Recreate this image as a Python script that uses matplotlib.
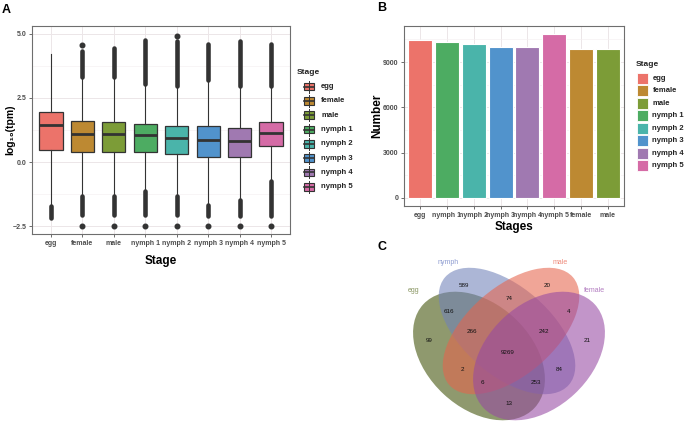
import numpy as np
import matplotlib
matplotlib.use("Agg")
import matplotlib.pyplot as plt
from matplotlib.patches import Rectangle, Ellipse
from matplotlib.lines import Line2D

plt.rcParams["font.family"] = ["Liberation Sans", "DejaVu Sans"]

# ---- data -------------------------------------------------------------
stages = ["egg", "female", "male", "nymph 1", "nymph 2", "nymph 3", "nymph 4", "nymph 5"]
stage_colors = ["#EC736A", "#BD8932", "#7C9C37", "#4DAC62", "#4AB4AA", "#5193CC", "#A079B1", "#D56BA6"]

q1 = [0.48, 0.41, 0.40, 0.41, 0.30, 0.19, 0.21, 0.63]
med = [1.44, 1.09, 1.09, 1.04, 0.92, 0.87, 0.83, 1.15]
q3 = [1.97, 1.61, 1.57, 1.50, 1.39, 1.40, 1.33, 1.58]
whis_hi = [4.20, 3.30, 3.30, 3.05, 2.95, 3.20, 2.97, 2.97]
whis_lo = [-1.65, -1.30, -1.30, -1.10, -1.30, -1.60, -1.45, -0.70]
# dense runs of outliers (from, to)
out_hi_from = [np.nan, 3.30, 3.30, 3.05, 2.95, 3.20, 2.97, 2.97]
out_hi_to = [np.nan, 4.35, 4.45, 4.75, 4.72, 4.62, 4.72, 4.62]
out_lo_from = [-1.73, -1.34, -1.34, -1.14, -1.34, -1.66, -1.47, -0.75]
out_lo_to = [-2.18, -2.05, -2.05, -2.05, -2.05, -2.09, -2.09, -2.09]
# isolated outliers
out_single = [[], [4.58, -2.5], [-2.5], [-2.5], [4.92, -2.5], [-2.5], [-2.5], [-2.5]]

bar_stages = ["egg", "nymph 1", "nymph 2", "nymph 3", "nymph 4", "nymph 5", "female", "male"]
gene_counts = [10480, 10320, 10210, 9990, 9990, 10850, 9860, 9860]

venn_sets = ["egg", "nymph", "male", "female"]
venn_counts = [99, 589, 20, 21, 616, 74, 4, 266, 242, 9269, 2, 84, 6, 253, 13]

# ---- helpers ----------------------------------------------------------
W, H = 685, 423
fig = plt.figure(figsize=(W / 100, H / 100), dpi=100)


def fx(x):
    return x / W


def fy(y):
    return 1 - y / H


def ggstyle(ax):
    ax.set_facecolor("white")
    for s in ax.spines.values():
        s.set_color("#6E6E6E")
        s.set_linewidth(0.8)
    ax.grid(True, which="major", color="#ECE6E8", lw=0.7)
    ax.grid(True, which="minor", axis="y", color="#F4F0F1", lw=0.45)
    ax.set_axisbelow(True)
    ax.tick_params(axis="both", which="major", length=2.5, width=0.6, color="#555555",
                   labelsize=5, labelcolor="#4D4D4D", pad=1.5)
    ax.tick_params(which="minor", length=0)
    for lab in ax.get_xticklabels() + ax.get_yticklabels():
        lab.set_fontweight("bold")


dark = "#333333"
col_by_stage = dict(zip(stages, stage_colors))

# ---- panel A: boxplot -------------------------------------------------
axA = fig.add_axes([fx(32), fy(234), (290 - 32) / W, (234 - 26) / H])
pos = np.arange(1, len(stages) + 1)
stats = []
for i in range(len(stages)):
    stats.append(dict(med=med[i], q1=q1[i], q3=q3[i], whislo=whis_lo[i], whishi=whis_hi[i],
                      fliers=out_single[i]))
bp = axA.bxp(stats, positions=pos, widths=0.74, patch_artist=True, showcaps=False,
             boxprops=dict(edgecolor=dark, lw=0.9),
             medianprops=dict(color=dark, lw=2.0),
             whiskerprops=dict(color=dark, lw=0.8),
             flierprops=dict(marker="o", markersize=3.3, markerfacecolor=dark,
                             markeredgecolor=dark))
for patch, c in zip(bp["boxes"], stage_colors):
    patch.set_facecolor(c)
axA.vlines(pos, out_hi_from, out_hi_to, color=dark, lw=3.3, capstyle="round", zorder=3)
axA.vlines(pos, out_lo_from, out_lo_to, color=dark, lw=3.3, capstyle="round", zorder=3)

axA.set_xlim(0.4, 8.6)
axA.set_ylim(-2.81, 5.31)
axA.set_yticks([-2.5, 0.0, 2.5, 5.0])
axA.set_yticklabels(["\u22122.5", "0.0", "2.5", "5.0"])
axA.set_yticks([-1.25, 1.25, 3.75], minor=True)
axA.set_xticks(pos)
axA.set_xticklabels(stages)
ggstyle(axA)
axA.set_xlabel("Stage", fontsize=8.5, fontweight="bold")
axA.xaxis.set_label_coords(0.5, -0.1)
axA.set_ylabel("log\u2081\u2080(tpm)", fontsize=7.5, fontweight="bold")
axA.yaxis.set_label_coords(-0.066, 0.5)

# legend A (boxplot keys)
fig.text(fx(297), fy(72), "Stage", fontsize=6, fontweight="bold", color="#222222", va="center")
for i, (name, c) in enumerate(zip(stages, stage_colors)):
    yc = 86.7 + i * 14.3
    fig.add_artist(Line2D([fx(308.5), fx(308.5)], [fy(yc - 6), fy(yc + 6)], color=dark, lw=0.7))
    fig.add_artist(Rectangle((fx(303.5), fy(yc + 3.8)), 10 / W, 7.6 / H, facecolor=c,
                             edgecolor=dark, lw=0.8))
    fig.add_artist(Line2D([fx(303.5), fx(313.5)], [fy(yc), fy(yc)], color=dark, lw=1.2))
    fig.text(fx(321), fy(yc), name, fontsize=5.5, fontweight="bold", color="#222222",
             va="center")

# ---- panel B: bars ----------------------------------------------------
axB = fig.add_axes([fx(404), fy(206), (624 - 404) / W, (206 - 26) / H])
bpos = np.arange(1, len(bar_stages) + 1)
axB.bar(bpos, gene_counts, width=0.9, color=[col_by_stage[s] for s in bar_stages],
        edgecolor="white", lw=0.8, zorder=2)
axB.set_xlim(0.4, 8.6)
axB.set_ylim(-542, 11392)
axB.set_yticks([0, 3000, 6000, 9000])
axB.set_yticks([1500, 4500, 7500, 10500], minor=True)
axB.set_xticks(bpos)
axB.set_xticklabels(bar_stages)
ggstyle(axB)
axB.set_xlabel("Stages", fontsize=8.5, fontweight="bold")
axB.xaxis.set_label_coords(0.5, -0.085)
axB.set_ylabel("Number", fontsize=8.5, fontweight="bold")
axB.yaxis.set_label_coords(-0.095, 0.5)

# legend B
fig.text(fx(636), fy(65), "Stage", fontsize=6, fontweight="bold", color="#222222", va="center")
for i, (name, c) in enumerate(zip(stages, stage_colors)):
    yc = 78.3 + i * 12.5
    fig.add_artist(Rectangle((fx(636.5), fy(yc + 5.5)), 11 / W, 11 / H, facecolor=c,
                             edgecolor="white", lw=0.6))
    fig.text(fx(652.5), fy(yc), name, fontsize=5.5, fontweight="bold", color="#222222",
             va="center")

# ---- panel C: Venn ----------------------------------------------------
axC = fig.add_axes([fx(380), 0, (W - 380) / W, (H - 250) / H])
axC.set_xlim(380, W)
axC.set_ylim(H, 250)
axC.axis("off")

ell_geom = [((479, 356), 152, 104, 43),  # egg
            ((507, 331), 164, 88, 41),   # nymph
            ((511, 331), 164, 88, -41),  # male
            ((539, 356), 152, 104, -43)]  # female
ell_fill = ["#3E5005", "#7182B9", "#E6644D", "#9649A3"]
set_text_col = ["#8A9663", "#8C9BD0", "#EE8A7A", "#B27CC0"]
set_label_xy = [(414, 290), (448, 262), (560, 262), (594, 290)]
for (xy, w, h, a), c in zip(ell_geom, ell_fill):
    axC.add_patch(Ellipse(xy, w, h, angle=a, facecolor=c, edgecolor="none", alpha=0.58))
for name, (x, y), c in zip(venn_sets, set_label_xy, set_text_col):
    axC.text(x, y, name, fontsize=5, color=c, ha="center", va="center")

count_xy = [(429, 340), (464, 285), (547, 285), (587, 340), (449, 311), (509, 298),
            (569, 311), (472, 331), (544, 331), (508, 352), (462, 369), (559, 369),
            (482, 382), (536, 382), (509, 403)]
for n, (x, y) in zip(venn_counts, count_xy):
    axC.text(x, y, str(n), fontsize=4.5, color="#111111", ha="center", va="center")

# ---- panel letters ----------------------------------------------------
fig.text(fx(2), fy(10), "A", fontsize=9, fontweight="bold", va="center")
fig.text(fx(377), fy(8), "B", fontsize=9, fontweight="bold", va="center")
fig.text(fx(378), fy(247), "C", fontsize=9, fontweight="bold", va="center")

fig.savefig("out.png", dpi=100, facecolor="white")
